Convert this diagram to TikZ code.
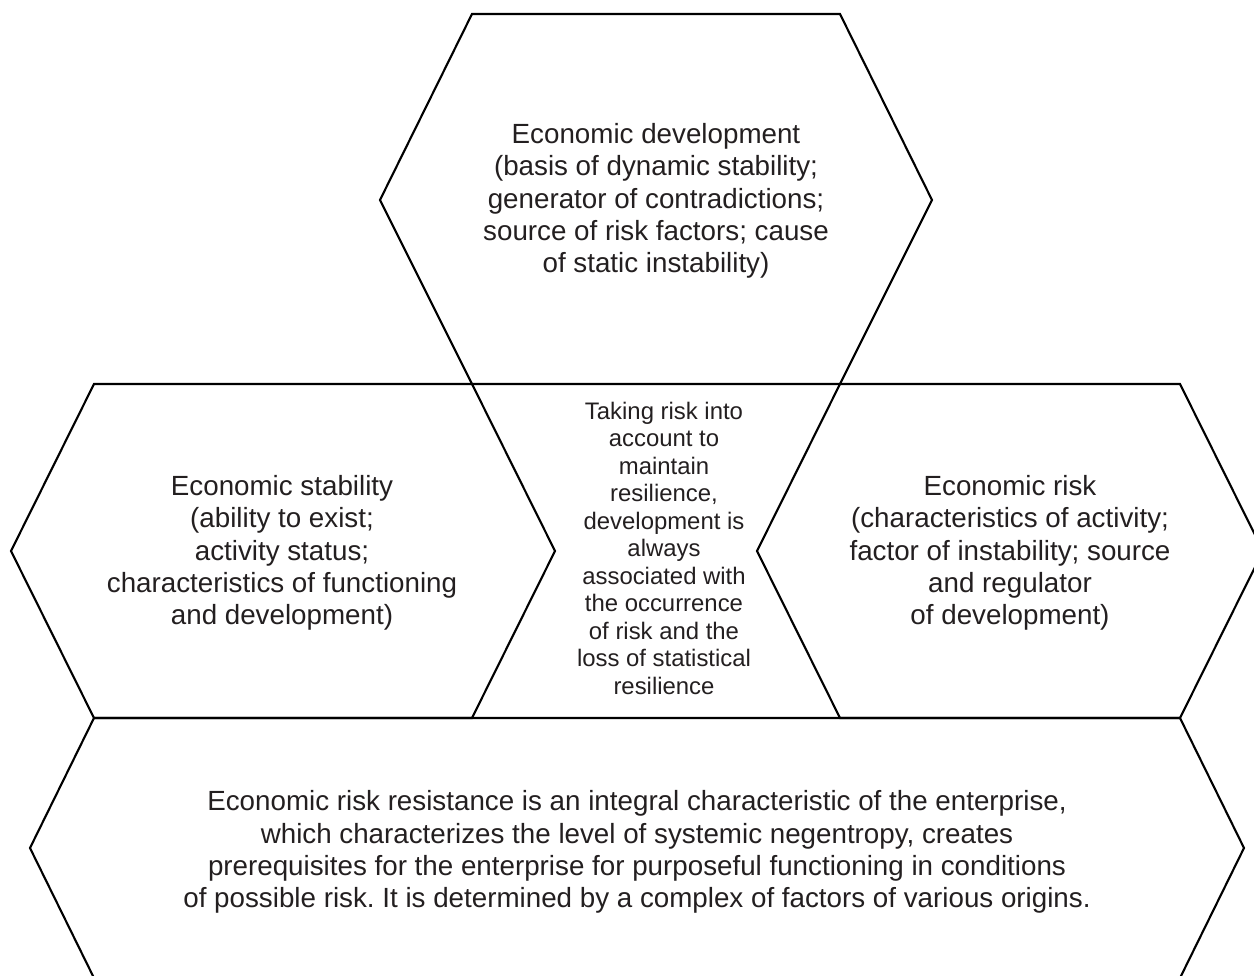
\documentclass[tikz,border=0pt]{standalone}
\usepackage{fontspec}
\setmainfont{Liberation Sans}
\usetikzlibrary{positioning}
\frenchspacing
\definecolor{textgray}{HTML}{231F20}
\tikzstyle{hexa}=[draw=black, line width=1.2pt, line join=miter]
\tikzstyle{hextext}=[align=center, text=textgray, inner sep=0, font=\fontsize{15.8}{18.4}\selectfont]
\tikzstyle{smalltext}=[hextext, font=\fontsize{13.6}{15.65}\selectfont]

\begin{document}
\begin{tikzpicture}[x=0.02cm, y=-0.02cm]
    \useasboundingbox (0,0) rectangle (1254,976);
    \clip (0,0) rectangle (1254,976);
    % hexagons
    \draw[hexa] (472,14) -- (840,14) -- (932,200) -- (840,384) -- (472,384) -- (380,200) -- cycle;
    \draw[hexa] (94,384) -- (472,384) -- (555,551) -- (472,718) -- (94,718) -- (11,551) -- cycle;
    \draw[hexa] (840,384) -- (1180,384) -- (1263,551) -- (1180,718) -- (840,718) -- (757,551) -- cycle;
    \draw[hexa] (94,718) -- (1180,718) -- (1244,848) -- (1180,978) -- (94,978) -- (30,848) -- cycle;
    % texts
    \node[hextext] (dev) at (656,201) {Economic development\\(basis of dynamic stability;\\generator of contradictions;\\source of risk factors; cause\\of static instability)};
    \node[hextext] (stab) at (282,553) {Economic stability\\(ability to exist;\\activity status;\\characteristics of functioning\\and development)};
    \node[hextext] (risk) at (1010,553) {Economic risk\\(characteristics of activity;\\factor of instability; source\\and regulator\\of development)};
    \node[smalltext] (mid) at (664,548) {Taking risk into\\account to\\maintain\\resilience,\\development is\\always\\associated with\\the occurrence\\of risk and the\\loss of statistical\\resilience};
    \node[hextext] (resist) at (637,852) {Economic risk resistance is an integral characteristic of the enterprise,\\which characterizes the level of systemic negentropy, creates\\prerequisites for the enterprise for purposeful functioning in conditions\\of possible risk. It is determined by a complex of factors of various origins.};
\end{tikzpicture}
\end{document}
